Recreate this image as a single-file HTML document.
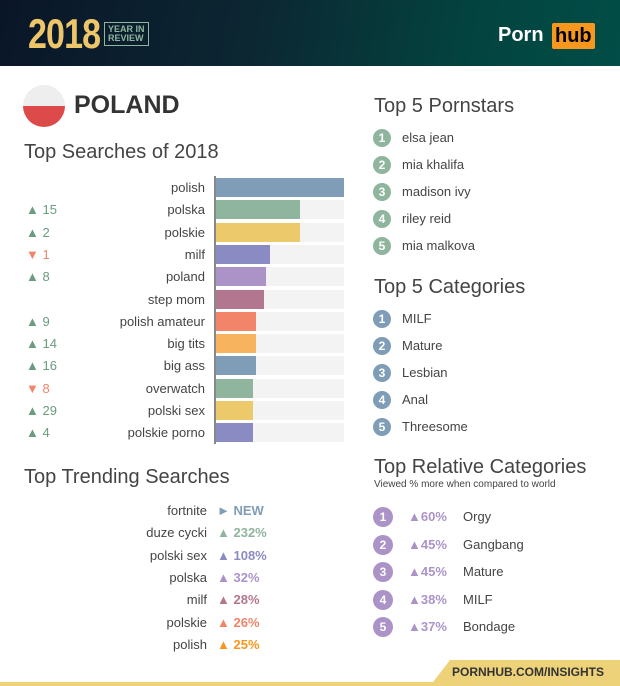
<!DOCTYPE html><html><head><meta charset="utf-8"><style>
body{margin:0;width:620px;height:686px;position:relative;overflow:hidden;background:#fff;font-family:"Liberation Sans",sans-serif;color:#333}
.a{position:absolute;white-space:nowrap}
.t{font-size:20px;color:#444}
.lbl{font-size:13px;color:#444;text-align:right;width:190px;left:15px}
.ch{font-size:13px;left:26px}
.bg{position:absolute;left:216px;width:128px;height:19px;background:#f3f3f3}
.bar{position:absolute;left:216px;height:19px}
.c{position:absolute;width:18px;height:18px;border-radius:50%;color:#fff;font-weight:bold;font-size:12px;text-align:center;line-height:18px}
.it{font-size:13px;color:#444}
</style></head><body>
<div class="a" style="left:0;top:0;width:620px;height:66px;background:linear-gradient(100deg,#0a1628 0%,#0c2632 40%,#03433f 75%,#024d47 100%)"></div>
<div class="a" style="left:28px;top:10px;font-size:40px;line-height:46px;font-weight:bold;color:#edc66a;letter-spacing:-1px;transform:scale(0.85,1.05);transform-origin:left top">2018</div>
<div class="a" style="left:104px;top:22px;border:1px solid #8fb59f;color:#8fb59f;font-size:9px;font-weight:bold;line-height:9px;padding:2px 3px">YEAR IN<br>REVIEW</div>
<div class="a" style="left:498px;top:24px;font-size:20px;font-weight:bold;color:#fff">Porn</div>
<div class="a" style="left:552px;top:23px;background:#f7971d;color:#000;font-size:20px;font-weight:bold;padding:0 3px;border-radius:2px;line-height:26px">hub</div>

<div class="a" style="left:23px;top:85px;width:42px;height:42px;border-radius:50%;background:linear-gradient(#eee 50%,#dd4a4a 50%)"></div>
<div class="a" style="left:74px;top:91px;font-size:25px;font-weight:bold;color:#333">POLAND</div>
<div class="a t" style="left:24px;top:141px">Top Searches of 2018</div>
<div class="a" style="left:214px;top:176px;width:2px;height:268px;background:#888"></div>

<div class="a t" style="left:24px;top:466px">Top Trending Searches</div>

<div class="a t" style="left:374px;top:95px">Top 5 Pornstars</div>
<div class="a t" style="left:374px;top:276px">Top 5 Categories</div>
<div class="a t" style="left:374px;top:456px">Top Relative Categories</div>
<div class="a" style="left:374px;top:479px;font-size:10px;color:#444">Viewed % more when compared to world</div>

<div id="bars"></div>
<div class="a" style="left:430px;top:660px;width:190px;height:26px;background:#edd27a;clip-path:polygon(20px 0,100% 0,100% 100%,0 100%)"></div>
<div class="a" style="left:0;top:682px;width:620px;height:4px;background:#edd27a"></div>
<div class="a" style="left:452px;top:665px;font-size:12px;font-weight:bold;color:#333">PORNHUB.COM/INSIGHTS</div>
<script>
var rows=[["polish",344,"#7f9db6",""],["polska",300,"#8fb59f","▲ 15"],["polskie",300,"#ecc96a","▲ 2"],["milf",270,"#8b8bc3","▼ 1"],["poland",266,"#ab93c8","▲ 8"],["step mom",264,"#b3768f",""],["polish amateur",256,"#f2846a","▲ 9"],["big tits",256,"#f8b35e","▲ 14"],["big ass",256,"#7f9db6","▲ 16"],["overwatch",253,"#8fb59f","▼ 8"],["polski sex",253,"#ecc96a","▲ 29"],["polskie porno",253,"#8b8bc3","▲ 4"]];
var h="";rows.forEach(function(r,i){var y=178+i*22.3;
h+='<div class="bg" style="top:'+y+'px"></div><div class="bar" style="top:'+y+'px;width:'+(r[1]-216)+'px;background:'+r[2]+'"></div>';
h+='<div class="a lbl" style="top:'+(y+2)+'px">'+r[0]+'</div>';
if(r[3])h+='<div class="a ch" style="top:'+(y+2)+'px;color:'+(r[3][0]=="▲"?"#6a9c7e":"#f2846a")+'">'+r[3]+'</div>';});
var tr=[["fortnite","► NEW","#7f9db6"],["duze cycki","▲ 232%","#8fb59f"],["polski sex","▲ 108%","#8b8bc3"],["polska","▲ 32%","#ab93c8"],["milf","▲ 28%","#b3768f"],["polskie","▲ 26%","#f2846a"],["polish","▲ 25%","#f7971d"]];
tr.forEach(function(r,i){var y=503+i*22.3;h+='<div class="a" style="left:50px;width:157px;text-align:right;top:'+y+'px;font-size:13px;color:#444">'+r[0]+'</div><div class="a" style="left:217px;top:'+y+'px;font-size:13px;font-weight:bold;color:'+r[2]+'">'+r[1]+'</div>';});
function list(arr,y0,col,sp){arr.forEach(function(n,i){var y=y0+i*sp;h+='<div class="c" style="left:373px;top:'+(y-9)+'px;background:'+col+'">'+(i+1)+'</div><div class="a it" style="left:402px;top:'+(y-8)+'px">'+n+'</div>';});}
list(["elsa jean","mia khalifa","madison ivy","riley reid","mia malkova"],138,"#8fb59f",27);
list(["MILF","Mature","Lesbian","Anal","Threesome"],319,"#7f9db6",27);
var rel=[["60%","Orgy"],["45%","Gangbang"],["45%","Mature"],["38%","MILF"],["37%","Bondage"]];
rel.forEach(function(r,i){var y=517+i*27.5;h+='<div class="c" style="left:373px;top:'+(y-10)+'px;width:20px;height:20px;line-height:20px;background:#ab93c8">'+(i+1)+'</div><div class="a" style="left:408px;top:'+(y-8)+'px;font-size:13px;font-weight:bold;color:#ab93c8">▲'+r[0]+'</div><div class="a it" style="left:463px;top:'+(y-8)+'px">'+r[1]+'</div>';});
document.getElementById("bars").innerHTML=h;
</script>
</body></html>
